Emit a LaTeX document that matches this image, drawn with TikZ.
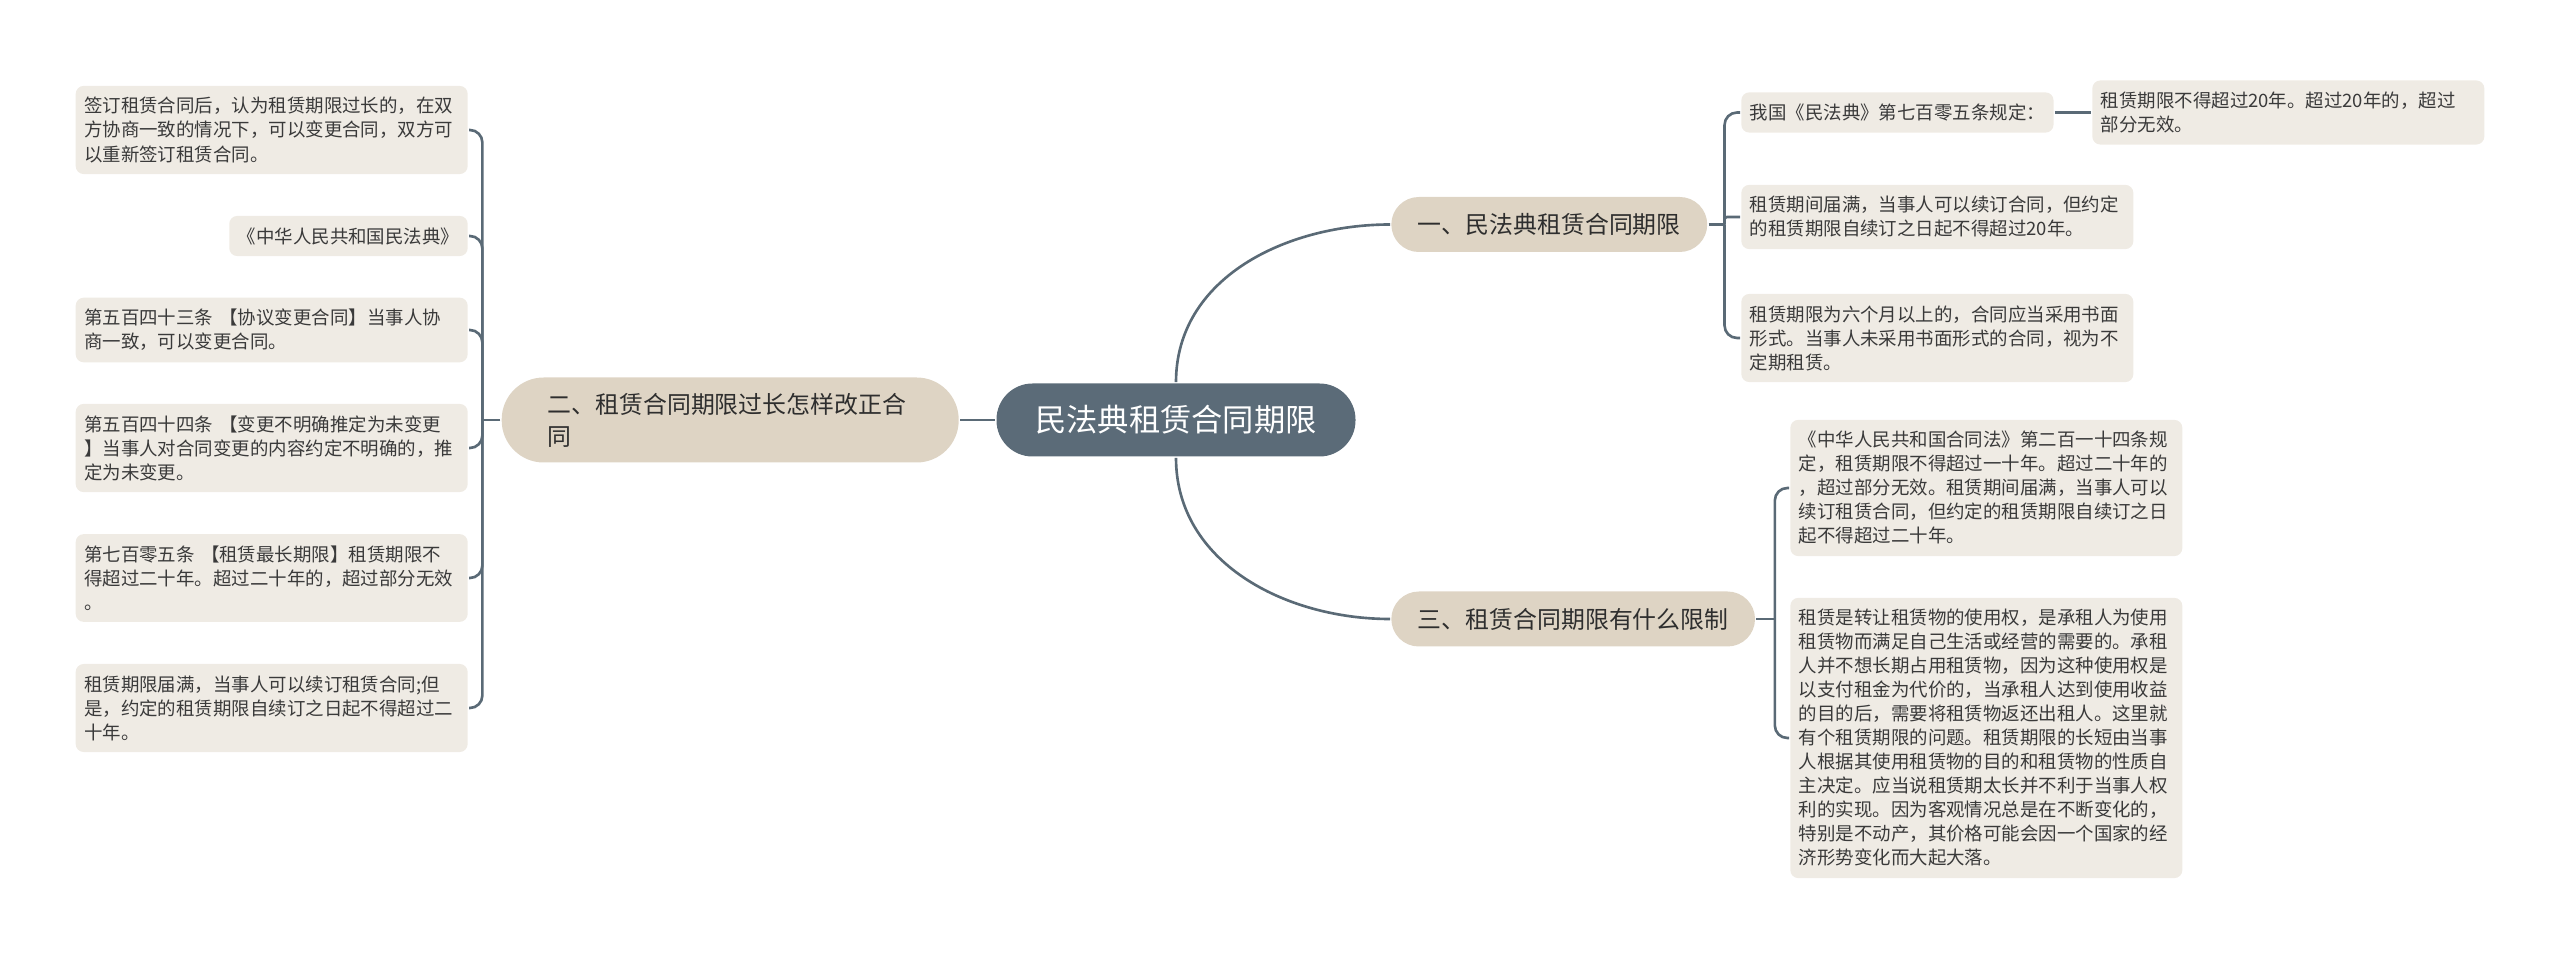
\documentclass[tikz,border=0pt]{standalone}
\usepackage{fontspec}
\setmainfont{Noto Sans CJK SC}
\usetikzlibrary{positioning}
\definecolor{cslate}{HTML}{5B6B78}
\definecolor{cbeige}{HTML}{DED4C4}
\definecolor{cleaf}{HTML}{EFEBE4}
\definecolor{cline}{HTML}{5A6A76}
\definecolor{ctext}{HTML}{3A3A3A}
\tikzset{
  every picture/.style={line width=1.5pt},
  root/.style={fill=cslate, text=white, rounded corners=0.72cm, minimum width=7.18cm, minimum height=1.46cm, font=\fontsize{17.8}{20}\selectfont},
  topic/.style={fill=cbeige, text=ctext!80!black, rounded corners=0.55cm, inner xsep=0.53cm, minimum height=1.10cm, font=\fontsize{13.6}{18.2}\selectfont},
  leaf/.style={fill=cleaf, text=ctext, rounded corners=0.16cm, inner xsep=0.17cm, inner ysep=0.23cm, align=left, font=\fontsize{10.5}{13.66}\selectfont},
  wide/.style={text width=7.5cm},
  link/.style={draw=cline, line width=1.5pt, rounded corners=0.25cm},
}

\begin{document}
\begin{tikzpicture}
  \useasboundingbox (0,0) rectangle (51.2,-19.18);
  \node[root] (root) at (23.52,-8.40) {民法典租赁合同期限};
  \node[topic, anchor=west] (t1) at (27.80,-4.49) {一、民法典租赁合同期限};
  \node[topic, anchor=west] (t3) at (27.80,-12.38) {三、租赁合同期限有什么限制};
  \node[topic, anchor=east, text width=7.3cm, align=left, minimum height=1.7cm, rounded corners=0.84cm, inner xsep=0.92cm] (t2) at (19.20,-8.40) {二、租赁合同期限过长怎样改正合\\同};

  \node[leaf, anchor=west] (l1a) at (34.80,-2.25) {我国《民法典》第七百零五条规定：};
  \node[leaf, wide, anchor=west] (l1x) at (41.82,-2.25) {租赁期限不得超过20年。超过20年的，超过\\部分无效。};
  \node[leaf, wide, anchor=west] (l1b) at (34.80,-4.34) {租赁期间届满，当事人可以续订合同，但约定\\的租赁期限自续订之日起不得超过20年。};
  \node[leaf, wide, anchor=west] (l1c) at (34.80,-6.76) {租赁期限为六个月以上的，合同应当采用书面\\形式。当事人未采用书面形式的合同，视为不\\定期租赁。};
  \node[leaf, wide, anchor=west] (l3a) at (35.78,-9.76) {《中华人民共和国合同法》第二百一十四条规\\定，租赁期限不得超过一十年。超过二十年的\\，超过部分无效。租赁期间届满，当事人可以\\续订租赁合同，但约定的租赁期限自续订之日\\起不得超过二十年。};
  \node[leaf, wide, anchor=west] (l3b) at (35.78,-14.76) {租赁是转让租赁物的使用权，是承租人为使用\\租赁物而满足自己生活或经营的需要的。承租\\人并不想长期占用租赁物，因为这种使用权是\\以支付租金为代价的，当承租人达到使用收益\\的目的后，需要将租赁物返还出租人。这里就\\有个租赁期限的问题。租赁期限的长短由当事\\人根据其使用租赁物的目的和租赁物的性质自\\主决定。应当说租赁期太长并不利于当事人权\\利的实现。因为客观情况总是在不断变化的，\\特别是不动产，其价格可能会因一个国家的经\\济形势变化而大起大落。};

  \node[leaf, wide, anchor=east] (l2a) at (9.38,-2.60) {签订租赁合同后，认为租赁期限过长的，在双\\方协商一致的情况下，可以变更合同，双方可\\以重新签订租赁合同。};
  \node[leaf, anchor=east] (l2b) at (9.38,-4.72) {《中华人民共和国民法典》};
  \node[leaf, wide, anchor=east] (l2c) at (9.38,-6.60) {第五百四十三条 【协议变更合同】当事人协\\商一致，可以变更合同。};
  \node[leaf, wide, anchor=east] (l2d) at (9.38,-8.96) {第五百四十四条 【变更不明确推定为未变更\\】当事人对合同变更的内容约定不明确的，推\\定为未变更。};
  \node[leaf, wide, anchor=east] (l2e) at (9.38,-11.56) {第七百零五条 【租赁最长期限】租赁期限不\\得超过二十年。超过二十年的，超过部分无效\\。};
  \node[leaf, wide, anchor=east] (l2f) at (9.38,-14.16) {租赁期限届满，当事人可以续订租赁合同;但\\是，约定的租赁期限自续订之日起不得超过二\\十年。};

  \coordinate[right=0.32cm of t1.east] (j1);
  \coordinate[right=0.37cm of t3.east] (j3);
  \coordinate[left=0.36cm of t2.west] (j2);

  \draw[link] (root.west) -- (t2.east);
  \draw[link] (root.north) to[out=90, in=180] (t1.west);
  \draw[link] (root.south) to[out=-90, in=180] (t3.west);

  \draw[link] (t1.east) -- (j1);
  \draw[link] (j1) |- (l1a.west);
  \draw[link, rounded corners=0.05cm] (j1) |- (l1b.west);
  \draw[link] (j1) |- (l1c.west);
  \draw[link] (l1a.east) -- (l1x.west);

  \draw[link] (t3.east) -- (j3);
  \draw[link] (j3) |- (l3a.west);
  \draw[link] (j3) |- (l3b.west);

  \draw[link] (t2.west) -- (j2);
  \draw[link] (j2) |- (l2a.east);
  \draw[link] (j2) |- (l2b.east);
  \draw[link] (j2) |- (l2c.east);
  \draw[link] (j2) |- (l2d.east);
  \draw[link] (j2) |- (l2e.east);
  \draw[link] (j2) |- (l2f.east);
\end{tikzpicture}
\end{document}
